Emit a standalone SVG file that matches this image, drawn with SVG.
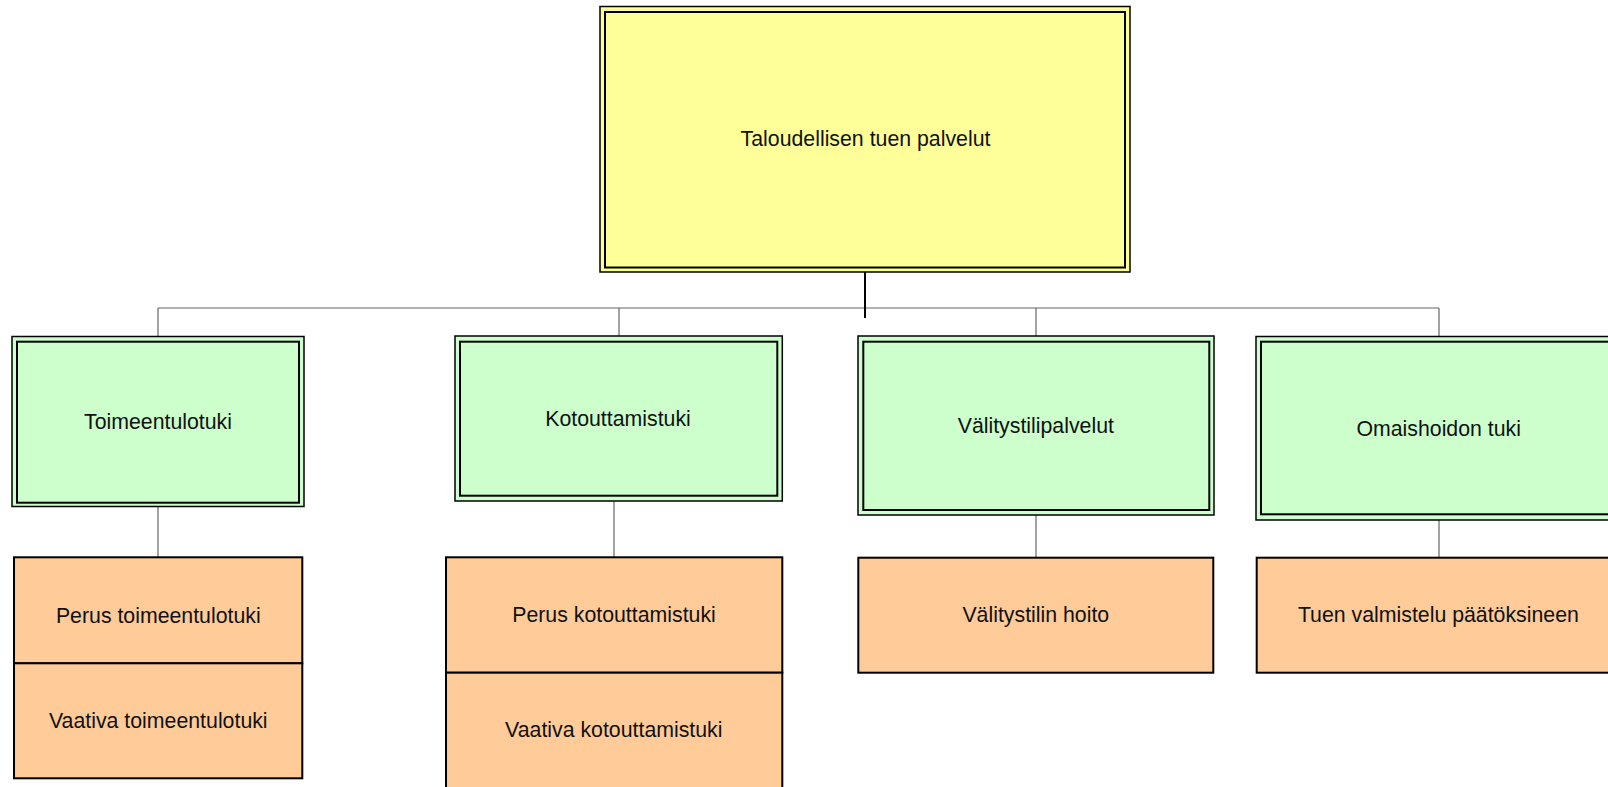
<svg xmlns="http://www.w3.org/2000/svg" width="1608" height="787" viewBox="0 0 1608 787">
<style>
.t{font-family:"Liberation Sans",Arial,sans-serif;font-size:21.3px;fill:#111;text-anchor:middle}
.y{fill:#FFFF99}
.g{fill:#CCFFCC}
.o{fill:#FFCC99;stroke:#000;stroke-width:2}
.out{stroke:#000;stroke-width:1.5}
.in{fill:none;stroke:#000;stroke-width:2}
.c{stroke:#666;stroke-width:1.2;fill:none}
</style>
<rect width="1608" height="787" fill="#fff"/>
<g id="connectors">
<line class="c" x1="158" y1="308" x2="1439" y2="308"/>
<line x1="865" y1="272" x2="865" y2="318" stroke="#000" stroke-width="2"/>
<line class="c" x1="158" y1="308" x2="158" y2="337"/>
<line class="c" x1="619" y1="308" x2="619" y2="336"/>
<line class="c" x1="1036" y1="308" x2="1036" y2="336"/>
<line class="c" x1="1439" y1="308" x2="1439" y2="337"/>
<line class="c" x1="158" y1="507" x2="158" y2="557"/>
<line class="c" x1="614" y1="501" x2="614" y2="557"/>
<line class="c" x1="1036" y1="515" x2="1036" y2="558"/>
<line class="c" x1="1439" y1="520" x2="1439" y2="558"/>
</g>
<g id="n-root">
<rect class="y out" x="600" y="6.5" width="530" height="265.5"/>
<rect class="in" x="605" y="12" width="520" height="255.5"/>
<text class="t" x="865.5" y="146">Taloudellisen tuen palvelut</text>
</g>
<g id="n-toimeentulotuki">
<rect class="g out" x="12" y="336.5" width="292" height="170"/>
<rect class="in" x="17" y="341.7" width="282" height="161"/>
<text class="t" x="158" y="429">Toimeentulotuki</text>
</g>
<g id="n-kotouttamistuki">
<rect class="g out" x="455" y="336" width="327.3" height="165"/>
<rect class="in" x="460" y="341.7" width="317.3" height="154"/>
<text class="t" x="618" y="426">Kotouttamistuki</text>
</g>
<g id="n-valitystilipalvelut">
<rect class="g out" x="858" y="336" width="356" height="179"/>
<rect class="in" x="863.3" y="341.7" width="346" height="168.3"/>
<text class="t" x="1035.8" y="433">Välitystilipalvelut</text>
</g>
<g id="n-omaishoidon">
<rect class="g out" x="1256" y="336.5" width="366" height="183.5"/>
<rect class="in" x="1261" y="341.7" width="356" height="172.6"/>
<text class="t" x="1438.7" y="436">Omaishoidon tuki</text>
</g>
<g id="n-perus-toimeentulotuki">
<rect class="o" x="14" y="557.3" width="288.3" height="106"/>
<text class="t" x="158.3" y="623">Perus toimeentulotuki</text>
</g>
<g id="n-vaativa-toimeentulotuki">
<rect class="o" x="14" y="663.3" width="288.3" height="115"/>
<text class="t" x="158.3" y="727.5">Vaativa toimeentulotuki</text>
</g>
<g id="n-perus-kotouttamistuki">
<rect class="o" x="446" y="557.3" width="336.3" height="115.4"/>
<text class="t" x="614" y="622">Perus kotouttamistuki</text>
</g>
<g id="n-vaativa-kotouttamistuki">
<rect class="o" x="446" y="672.7" width="336.3" height="130"/>
<text class="t" x="613.8" y="737">Vaativa kotouttamistuki</text>
</g>
<g id="n-valitystilin-hoito">
<rect class="o" x="858.3" y="557.7" width="355" height="115"/>
<text class="t" x="1035.8" y="622.3">Välitystilin hoito</text>
</g>
<g id="n-tuen-valmistelu">
<rect class="o" x="1256.7" y="557.7" width="365" height="115"/>
<text class="t" x="1438.4" y="622.3">Tuen valmistelu päätöksineen</text>
</g>
</svg>
